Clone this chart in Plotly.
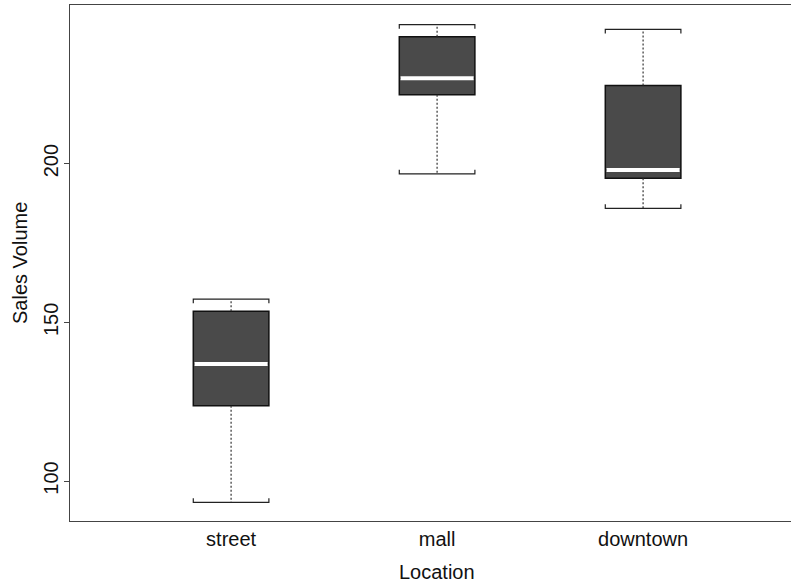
import plotly.graph_objects as go

categories = ["street", "mall", "downtown"]
q1 = [123.7, 221.7, 195.4]
median = [136.9, 226.9, 198.0]
q3 = [153.5, 240.0, 224.6]
lower_whisker = [93.3, 196.8, 185.9]
upper_whisker = [157.3, 243.8, 242.3]
y_ticks = [100, 150, 200]

pos = list(range(len(categories)))
BOX_W = 0.367
CAP_TIP = 1.3  # small bracket tips toward the box (data units)
FONT = "Liberation Sans, Arial, sans-serif"

fig = go.Figure()

for i, c in enumerate(categories):
    # dotted whiskers
    fig.add_trace(go.Scatter(
        x=[pos[i], pos[i], None, pos[i], pos[i]],
        y=[q3[i], upper_whisker[i], None, q1[i], lower_whisker[i]],
        mode="lines", line=dict(color="#333333", width=1.2, dash="2px,2px"),
        hoverinfo="skip", showlegend=False))
    # caps with small tips
    xl, xr = pos[i] - BOX_W / 2, pos[i] + BOX_W / 2
    fig.add_trace(go.Scatter(
        x=[xl, xl, xr, xr, None, xl, xl, xr, xr],
        y=[upper_whisker[i] - CAP_TIP, upper_whisker[i], upper_whisker[i], upper_whisker[i] - CAP_TIP, None,
           lower_whisker[i] + CAP_TIP, lower_whisker[i], lower_whisker[i], lower_whisker[i] + CAP_TIP],
        mode="lines", line=dict(color="#222222", width=1.2),
        hoverinfo="skip", showlegend=False))

# boxes
fig.add_trace(go.Box(
    x=pos, q1=q1, median=median, q3=q3,
    lowerfence=q1, upperfence=q3,
    width=BOX_W, whiskerwidth=0,
    fillcolor="#4a4a4a", line=dict(color="#111111", width=1.5),
    boxpoints=False, showlegend=False, name="Sales"))

# white median lines
mx, my = [], []
for i in range(len(categories)):
    mx += [pos[i] - BOX_W / 2 + 0.006, pos[i] + BOX_W / 2 - 0.006, None]
    my += [median[i], median[i], None]
fig.add_trace(go.Scatter(x=mx, y=my, mode="lines",
                         line=dict(color="white", width=4),
                         hoverinfo="skip", showlegend=False))

fig.update_layout(
    width=791, height=582,
    margin=dict(l=70, r=0, t=5, b=61, autoexpand=False),
    plot_bgcolor="white", paper_bgcolor="white",
    font=dict(family=FONT, size=20, color="#111111"),
    xaxis=dict(
        range=[-0.782, 2.718], tickvals=pos, ticktext=categories,
        showgrid=False, zeroline=False, showline=True, linecolor="#444444",
        linewidth=1.3, mirror=True, ticks="", tickfont=dict(size=20),
        automargin=False,
    ),
    yaxis=dict(
        range=[87.4, 250.0], tickvals=y_ticks,
        showgrid=False, zeroline=False, showline=True, linecolor="#444444",
        linewidth=1.3, ticks="outside", ticklen=5, tickcolor="#444444",
        tickangle=-90, tickfont=dict(size=20), ticklabelstandoff=-2,
        automargin=False,
    ),
    annotations=[
        dict(text="Location", xref="paper", yref="paper", x=(437 - 70) / 721, y=0,
             yshift=-51, xanchor="center", yanchor="middle", showarrow=False,
             font=dict(size=20)),
        dict(text="Sales Volume", xref="paper", yref="paper", x=0, y=0.5,
             xshift=-50, xanchor="center", yanchor="middle", textangle=-90,
             showarrow=False, font=dict(size=20)),
    ],
)

fig.write_html("out.html", config={"displayModeBar": False},
               post_script="document.body.style.margin='0px';")
